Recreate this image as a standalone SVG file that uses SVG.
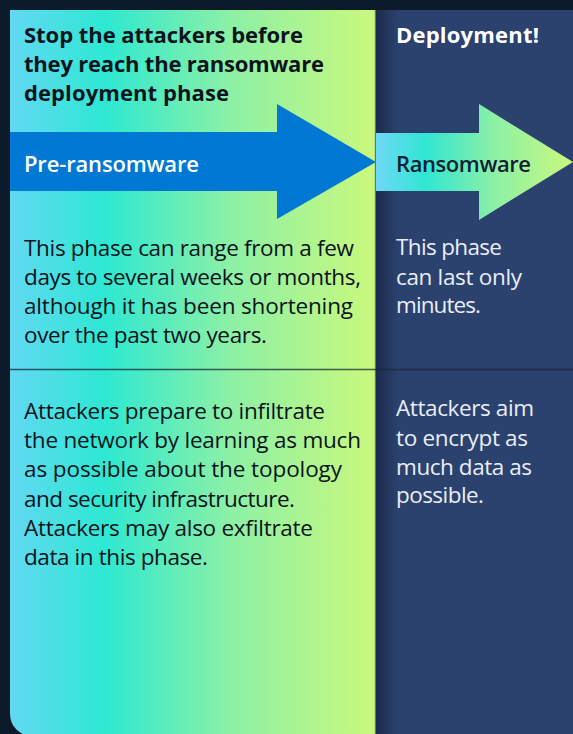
<svg xmlns="http://www.w3.org/2000/svg" width="573" height="734" viewBox="0 0 573 734">
  <defs>
    <linearGradient id="gLeft" gradientUnits="userSpaceOnUse" x1="10" y1="0" x2="375" y2="0">
      <stop offset="0" stop-color="#62d8f2"/>
      <stop offset="0.26" stop-color="#2ee8d2"/>
      <stop offset="0.6" stop-color="#8cf0a6"/>
      <stop offset="1" stop-color="#cbf87d"/>
    </linearGradient>
    <linearGradient id="gArrow" gradientUnits="userSpaceOnUse" x1="376" y1="0" x2="573" y2="0">
      <stop offset="0" stop-color="#6fd8f6"/>
      <stop offset="0.25" stop-color="#30e6d2"/>
      <stop offset="0.6" stop-color="#8cf0a6"/>
      <stop offset="1" stop-color="#cbf87d"/>
    </linearGradient>
    <linearGradient id="gShadow" gradientUnits="userSpaceOnUse" x1="375" y1="0" x2="398" y2="0">
      <stop offset="0" stop-color="#1b2a4a"/>
      <stop offset="1" stop-color="#2b416e"/>
    </linearGradient>
    <style>
      .title { font-family: "Open Sans", "Noto Sans", "Liberation Sans", sans-serif; font-weight: 700; font-size: 22px; }
      .label { font-family: "Open Sans", "Noto Sans", "Liberation Sans", sans-serif; font-weight: 600; font-size: 22px; }
      .body { font-family: "Open Sans", "Noto Sans", "Liberation Sans", sans-serif; font-weight: 400; font-size: 22.5px; }
      .dark { fill: #0b141c; }
      .light { fill: #e9eef6; }
      .white { fill: #ffffff; }
    </style>
  </defs>

  <rect id="background" x="0" y="0" width="573" height="734" fill="#0c1b29"/>

  <g id="panel-right">
    <rect x="375" y="10" width="198" height="724" fill="#2b416e"/>
    <rect x="375" y="10" width="24" height="724" fill="url(#gShadow)"/>
  </g>

  <g id="panel-left">
    <path d="M10 10 H375 V736 H32 A22 22 0 0 1 10 714 Z" fill="url(#gLeft)"/>
    <line x1="375" y1="10" x2="375" y2="734" stroke="#9fc873" stroke-width="1"/>
  </g>

  <g id="divider">
    <line x1="10" y1="369.5" x2="573" y2="369.5" stroke="#1a2838" stroke-opacity="0.75" stroke-width="1.5"/>
  </g>

  <g id="arrow-pre-ransomware">
    <path d="M10 132 H277 V104 L376 162 L277 219 V191 H10 Z" fill="#0078d4"/>
    <text class="label white" x="24" y="171.5" textLength="175">Pre-ransomware</text>
  </g>

  <g id="arrow-ransomware">
    <path d="M376 133 H479 V104 L573 162 L479 220 V191 H376 Z" fill="url(#gArrow)"/>
    <text class="label" fill="#0f1f35" x="396" y="171.5" textLength="135">Ransomware</text>
  </g>

  <g id="title-left">
    <text class="title dark" x="24" y="43" textLength="279">Stop the attackers before</text>
    <text class="title dark" x="24" y="72" textLength="300">they reach the ransomware</text>
    <text class="title dark" x="24" y="100.5" textLength="205">deployment phase</text>
  </g>

  <g id="title-right">
    <text class="title white" x="396" y="43" textLength="143">Deployment!</text>
  </g>

  <g id="duration-left">
    <text class="body dark" x="24" y="255.5" textLength="330">This phase can range from a few</text>
    <text class="body dark" x="24" y="285" textLength="337">days to several weeks or months,</text>
    <text class="body dark" x="24" y="314" textLength="329">although it has been shortening</text>
    <text class="body dark" x="24" y="342.5" textLength="243">over the past two years.</text>
  </g>

  <g id="duration-right">
    <text class="body light" x="396" y="254.5" textLength="106">This phase</text>
    <text class="body light" x="396" y="285" textLength="126">can last only</text>
    <text class="body light" x="396" y="313" textLength="85">minutes.</text>
  </g>

  <g id="activity-left">
    <text class="body dark" x="24" y="419" textLength="301">Attackers prepare to infiltrate</text>
    <text class="body dark" x="24" y="448" textLength="337">the network by learning as much</text>
    <text class="body dark" x="24" y="477" textLength="318">as possible about the topology</text>
    <text class="body dark" x="24" y="506.5" textLength="271">and security infrastructure.</text>
    <text class="body dark" x="24" y="536" textLength="289">Attackers may also exfiltrate</text>
    <text class="body dark" x="24" y="565" textLength="184">data in this phase.</text>
  </g>

  <g id="activity-right">
    <text class="body light" x="396" y="416" textLength="138">Attackers aim</text>
    <text class="body light" x="396" y="446" textLength="132">to encrypt as</text>
    <text class="body light" x="396" y="475" textLength="136">much data as</text>
    <text class="body light" x="396" y="503" textLength="88">possible.</text>
  </g>

  <g id="connectors"/>
</svg>
